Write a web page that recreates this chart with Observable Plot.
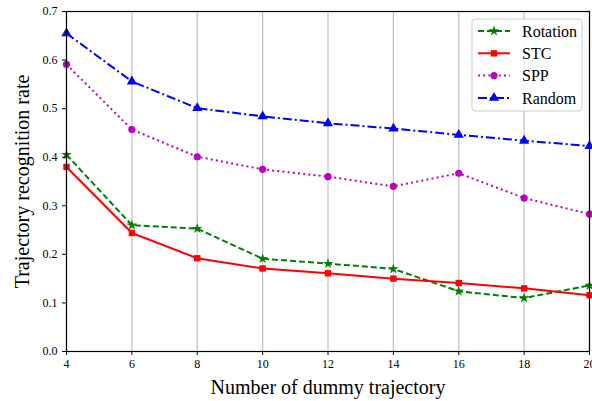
<!DOCTYPE html>
<html>
<head>
<meta charset="utf-8">
<script src="https://cdn.jsdelivr.net/npm/d3@7"></script>
<script src="https://cdn.jsdelivr.net/npm/@observablehq/plot@0.6"></script>
<style>
  html, body { margin: 0; padding: 0; background: #fff; }
  #chart svg { display: block; }
  #chart svg text { font-family: "Liberation Serif", "Times New Roman", serif; }
</style>
</head>
<body>
<div id="chart"></div>
<script>
const dummyCounts = [4, 6, 8, 10, 12, 14, 16, 18, 20];
const seriesNames = ["Rotation", "STC", "SPP", "Random"];
const rotation = [0.405, 0.260, 0.253, 0.191, 0.181, 0.170, 0.124, 0.110, 0.136];
const stc      = [0.380, 0.244, 0.192, 0.171, 0.161, 0.150, 0.141, 0.130, 0.116];
const spp      = [0.591, 0.457, 0.401, 0.375, 0.360, 0.340, 0.367, 0.316, 0.283];
const random   = [0.655, 0.556, 0.501, 0.484, 0.470, 0.459, 0.446, 0.434, 0.423];
const yTicks = [0, 0.1, 0.2, 0.3, 0.4, 0.5, 0.6, 0.7];
const xLabel = "Number of dummy trajectory";
const yLabel = "Trajectory recognition rate";

const seriesValues = [rotation, stc, spp, random];
const styles = [
  {color: "#008000", dash: "6,3", symbol: "star", d3symbol: d3.symbolStar, r: 3.3},
  {color: "#ff0000", dash: null, symbol: "square", d3symbol: d3.symbolSquare, r: 3.6},
  {color: "#bf00bf", dash: "2,3.2", symbol: "circle", d3symbol: d3.symbolCircle, r: 3.6},
  {color: "#0000ff", dash: "9,3,2,3", symbol: "triangle", d3symbol: d3.symbolTriangle, r: 3.8}
];

const tables = seriesNames.map((name, i) =>
  dummyCounts.map((x, j) => ({x, y: seriesValues[i][j], series: name})));

const marks = [
  Plot.gridX(dummyCounts, {stroke: "#c0c0c0", strokeOpacity: 1, strokeWidth: 1.2}),
];
tables.forEach((t, i) => {
  const s = styles[i];
  marks.push(Plot.line(t, {x: "x", y: "y", stroke: s.color, strokeWidth: 2, strokeDasharray: s.dash, strokeLinecap: "butt"}));
  marks.push(Plot.dot(t, {x: "x", y: "y", fill: s.color, stroke: "none", symbol: s.symbol, r: s.r}));
});
marks.push(
  Plot.axisX({ticks: dummyCounts, tickSize: 4, tickPadding: 4, label: null, fontSize: 12}),
  Plot.axisY({ticks: yTicks, tickSize: 4, tickPadding: 5, label: null, tickFormat: d3.format(".1f"), fontSize: 12}),
  Plot.frame({stroke: "#000", strokeWidth: 1.2}),
  Plot.text([xLabel], {frameAnchor: "bottom", dy: 36, lineAnchor: "middle", textAnchor: "middle", fontSize: 20, fill: "#000"}),
  Plot.text([yLabel], {frameAnchor: "left", dx: -44, rotate: -90, lineAnchor: "middle", textAnchor: "middle", fontSize: 20, fill: "#000"})
);

const chart = Plot.plot({
  width: 592,
  height: 401,
  marginLeft: 66,
  marginRight: 3,
  marginTop: 11,
  marginBottom: 50,
  style: {fontFamily: "Liberation Serif, serif", color: "#000", background: "#fff", overflow: "visible"},
  x: {domain: [4, 20]},
  y: {domain: [0, 0.7]},
  marks
});

// Legend inside plot (upper right), drawn into the same SVG
const svg = d3.select(chart);
const boxW = 110, boxH = 92;
const bx = 592 - 3 - 7 - boxW, by = 11 + 8;
const lg = svg.append("g").attr("font-family", "Liberation Serif, serif").attr("text-anchor", "start");
lg.append("rect").attr("x", bx).attr("y", by).attr("width", boxW).attr("height", boxH)
  .attr("rx", 3).attr("fill", "#fff").attr("fill-opacity", 0.85).attr("stroke", "#cccccc").attr("stroke-width", 1);
seriesNames.forEach((name, i) => {
  const s = styles[i];
  const cy = by + 12 + i * 22.3;
  lg.append("line").attr("x1", bx + 6).attr("x2", bx + 38).attr("y1", cy).attr("y2", cy)
    .attr("stroke", s.color).attr("stroke-width", 2).attr("stroke-dasharray", s.dash);
  lg.append("path").attr("d", d3.symbol(s.d3symbol, Math.PI * s.r * s.r)())
    .attr("transform", `translate(${bx + 22},${cy})`).attr("fill", s.color);
  lg.append("text").attr("x", bx + 50).attr("y", cy).attr("dy", "0.35em")
    .attr("text-anchor", "start").attr("font-family", "Liberation Serif, serif")
    .attr("font-size", 16).attr("fill", "#000").text(name);
});

document.getElementById("chart").appendChild(chart);
</script>
</body>
</html>
